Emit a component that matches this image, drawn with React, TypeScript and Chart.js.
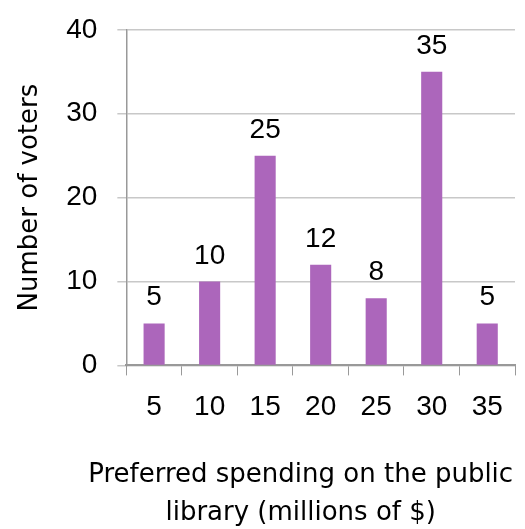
import React, { useEffect, useRef } from "react";
import { Chart, registerables } from "chart.js";

Chart.register(...registerables);

const categories = ["5", "10", "15", "20", "25", "30", "35"];
const voters = [5, 10, 25, 12, 8, 35, 5];
const yTicks = [0, 10, 20, 30, 40];
const xTitleLines = ["Preferred spending on the public", "library (millions of $)"];

const FONT = "'DejaVu Sans', sans-serif";
const NUM_FONT = "'Liberation Sans', sans-serif";
const SIZE = 26;
const NUM_SIZE = 28;

const labelPlugin = {
  id: "barLabels",
  afterDatasetsDraw(chart: any) {
    const ctx = chart.ctx;
    const meta = chart.getDatasetMeta(0);
    ctx.save();
    ctx.font = `${NUM_SIZE}px ${NUM_FONT}`;
    ctx.fillStyle = "#000";
    ctx.textAlign = "center";
    ctx.textBaseline = "alphabetic";
    meta.data.forEach((bar: any, i: number) => {
      ctx.fillText(String(voters[i]), bar.x, bar.y - 18);
    });
    ctx.restore();
  },
};

const xTitlePlugin = {
  id: "xTitle",
  afterDraw(chart: any) {
    const ctx = chart.ctx;
    const a = chart.chartArea;
    const cx = (a.left + a.right) / 2 - 20;
    ctx.save();
    ctx.font = `${SIZE}px ${FONT}`;
    ctx.fillStyle = "#000";
    ctx.textAlign = "center";
    ctx.textBaseline = "middle";
    ctx.fillText(xTitleLines[0], cx, a.bottom + 110);
    ctx.fillText(xTitleLines[1], cx, a.bottom + 148);
    ctx.restore();
  },
};

export default function App() {
  const ref = useRef<HTMLCanvasElement>(null);
  useEffect(() => {
    const chart = new Chart(ref.current!, {
      type: "bar",
      data: {
        labels: categories,
        datasets: [
          {
            data: voters,
            backgroundColor: "#AC66BB",
            barPercentage: 0.38,
            categoryPercentage: 1,
          },
        ],
      },
      options: {
        animation: false,
        responsive: false,
        devicePixelRatio: 1,
        layout: { padding: { top: 0, right: 10, left: 15, bottom: 90 } },
        plugins: { legend: { display: false }, tooltip: { enabled: false } },
        scales: {
          x: {
            offset: true,
            grid: {
              display: true,
              drawOnChartArea: false,
              drawTicks: true,
              tickLength: 10,
              color: "#999",
              offset: true,
            },
            border: { display: true, color: "#999", width: 2 },
            ticks: { color: "#000", font: { family: NUM_FONT, size: NUM_SIZE }, padding: 15 },
            title: { display: false },
          },
          y: {
            min: 0,
            max: 40,
            afterBuildTicks: (axis: any) => {
              axis.ticks = yTicks.map((v) => ({ value: v }));
            },
            grid: { color: "#c8c8c8", tickLength: 9, lineWidth: 1.5 },
            border: { display: true, color: "#999", width: 1.5 },
            ticks: {
              color: "#000",
              font: { family: NUM_FONT, size: NUM_SIZE, lineHeight: 0.7 },
              padding: 20,
            },
            title: {
              display: true,
              text: "Number of voters",
              color: "#000",
              font: { family: FONT, size: SIZE },
              padding: { top: 0, bottom: 0 },
            },
          },
        },
      },
      plugins: [labelPlugin, xTitlePlugin],
    });
    return () => chart.destroy();
  }, []);
  return (
    <div style={{ position: "absolute", left: 0, top: 0, width: 525, height: 529 }}>
      <canvas ref={ref} width={525} height={529} />
    </div>
  );
}
